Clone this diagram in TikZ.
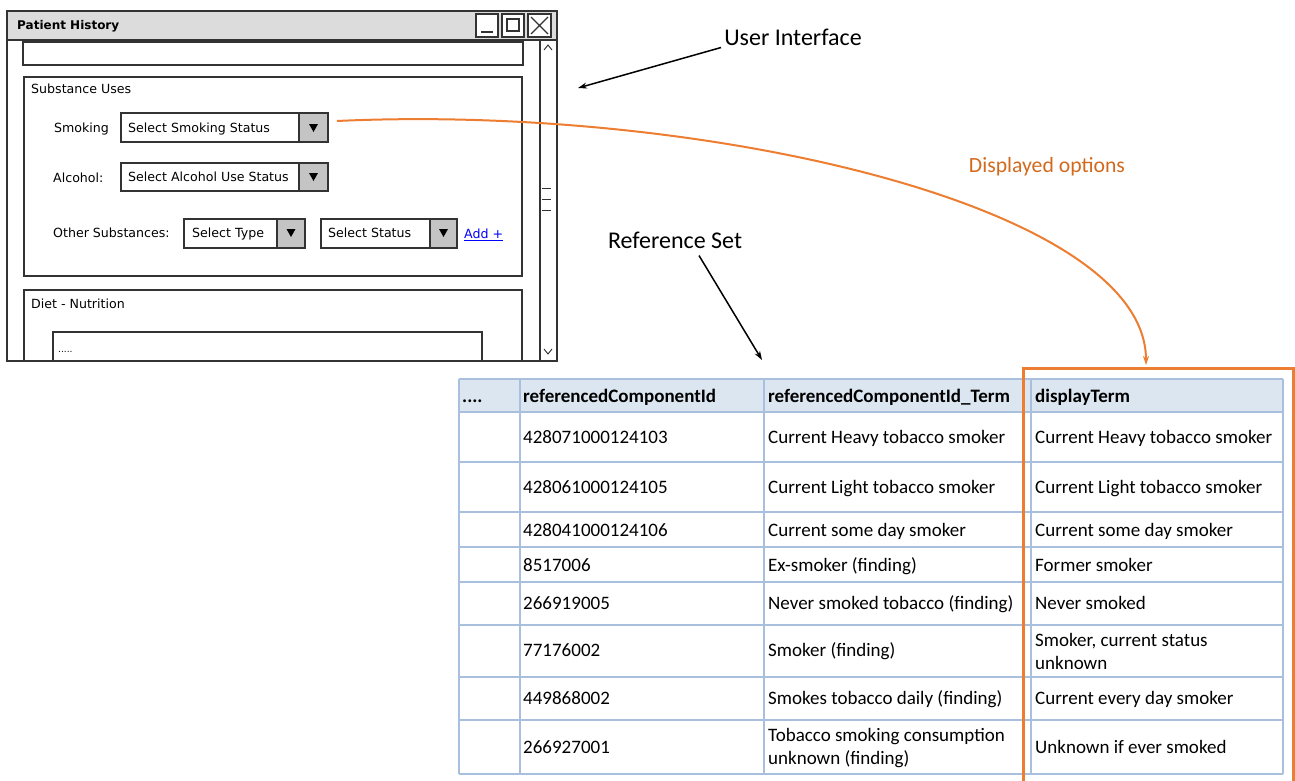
\documentclass[tikz,border=0pt]{standalone}
\usepackage{fontspec}
\setmainfont{Carlito}
\newfontfamily\uifont{DejaVu Sans}
\usetikzlibrary{arrows.meta}
\definecolor{orangeL}{HTML}{ED7D31}
\definecolor{orangeT}{HTML}{D26A1E}
\definecolor{gridc}{HTML}{A8C0DE}
\definecolor{headc}{HTML}{DCE6F1}
\definecolor{uiline}{HTML}{333333}
\definecolor{btngray}{HTML}{C4C4C4}
\definecolor{titlegray}{HTML}{DCDCDC}
\begin{document}
\begin{tikzpicture}[x=1bp,y=-1bp,
  ui/.style={font=\uifont\fontsize{12.6bp}{15bp}\selectfont, inner sep=0pt, anchor=west, text height=9.2bp, text depth=0bp},
  uibox/.style={draw=uiline, line width=1.2bp, fill=white},
  uiline/.style={draw=uiline, line width=1.2bp},
  btn/.style={fill=btngray},
  tri/.style={fill=black},
  cell/.style={font=\fontsize{19bp}{23bp}\selectfont, inner sep=0pt, anchor=west, text height=12.2bp, text depth=0bp},
  cellb/.style={font=\fontsize{19bp}{23bp}\selectfont, inner sep=0pt, anchor=west, align=left},
  hcell/.style={cell, font=\bfseries\fontsize{19bp}{23bp}\selectfont},
  callout/.style={font=\fontsize{24bp}{28bp}\selectfont, inner sep=0pt},
  blackarrow/.style={draw=black, line width=1.5bp, -{Stealth[length=9bp,width=6bp]}},
  orangearrow/.style={draw=orangeL, line width=2bp, -{Stealth[length=9bp,width=6bp]}},
  gridline/.style={draw=gridc, line width=1.2bp},
]
\useasboundingbox (0,0) rectangle (1295,781);

% ---------- window ----------
\fill[white] (7,11) rectangle (557,361);
\fill[titlegray] (7,11) rectangle (557,40);
\draw[uiline, line width=1.5bp] (7,11) rectangle (557,361);
\draw[uiline] (7,40) -- (557,40);
\node[ui, font=\uifont\bfseries\fontsize{12bp}{14bp}\selectfont] (title) at (17,25) {Patient History};
% title buttons
\draw[uibox] (476,14) rectangle (498,37);
\draw[uiline] (481,32) -- (493,32);
\draw[uibox] (502,14) rectangle (524,37);
\draw[uiline] (507,19) rectangle (519,31);
\draw[uibox] (528,14) rectangle (551,37);
\draw[uiline] (531,17) -- (548,34) (548,17) -- (531,34);
% scrollbar
\draw[uiline] (540,40) -- (540,361);
\draw[uiline, line width=0.9bp] (544,50) -- (548,45) -- (552,50);
\draw[uiline, line width=0.9bp] (544,349) -- (548,354) -- (552,349);
\draw[uiline, line width=0.9bp] (542,188) -- (551,188) (542,199) -- (551,199) (542,210) -- (551,210);
% top textbox
\draw[uibox] (23,42) rectangle (523,65);
% substance uses
\draw[uibox] (24,77) rectangle (522,276);
\node[ui] (subst) at (31,89) {Substance Uses};
\node[ui] (smokL) at (54,128) {Smoking};
\node[ui] (alcL) at (53,178) {Alcohol:};
\node[ui] (othL) at (53,233) {Other Substances:};
% smoking dropdown
\draw[uibox] (121,113) rectangle (328,142);
\fill[btn] (299,113) rectangle (328,142);
\draw[uiline] (121,113) rectangle (328,142) (299,113) -- (299,142);
\fill[tri] (309,124) -- (318,124) -- (313.5,132) -- cycle;
\node[ui] (smokDD) at (128,128) {Select Smoking Status};
% alcohol dropdown
\draw[uibox] (121,163) rectangle (328,191);
\fill[btn] (299,163) rectangle (328,191);
\draw[uiline] (121,163) rectangle (328,191) (299,163) -- (299,191);
\fill[tri] (309,173) -- (318,173) -- (313.5,181) -- cycle;
\node[ui] (alcDD) at (128,177) {Select Alcohol Use Status};
% type dropdown
\draw[uibox] (184,219) rectangle (305,248);
\fill[btn] (277,219) rectangle (305,248);
\draw[uiline] (184,219) rectangle (305,248) (277,219) -- (277,248);
\fill[tri] (286.5,229) -- (295.5,229) -- (291,237) -- cycle;
\node[ui] (typeDD) at (192,233) {Select Type};
% status dropdown
\draw[uibox] (321,219) rectangle (457,248);
\fill[btn] (430,219) rectangle (457,248);
\draw[uiline] (321,219) rectangle (457,248) (430,219) -- (430,248);
\fill[tri] (439,229) -- (448,229) -- (443.5,237) -- cycle;
\node[ui] (statDD) at (328,233) {Select Status};
\node[ui, text=blue] (add) at (464,234) {\underline{Add +}};
% diet
\draw[uibox] (24,290) rectangle (522,361);
\node[ui] (diet) at (31,304) {Diet - Nutrition};
\draw[uibox] (53,332) rectangle (482,361);
\node[ui, font=\uifont\fontsize{9bp}{10bp}\selectfont] (dots) at (58,348) {.....};
\draw[uiline, line width=1.5bp] (7,11) rectangle (557,361);

% ---------- callouts ----------
\node[callout] (uilabel) at (793,37) {User Interface};
\coordinate (uiTip) at (578,88);
\draw[blackarrow] ([xshift=-3bp,yshift=-2bp]uilabel.south west) -- (uiTip);

\node[callout] (refset) at (675,240) {Reference Set};
\coordinate (refTip) at (762,360);
\draw[blackarrow] ([xshift=24bp,yshift=-7bp]refset.south) -- (refTip);

\node[callout, font=\fontsize{21.7bp}{26bp}\selectfont, text=orangeT] (dispopt) at (1047,167) {Displayed options};
\coordinate (curveStart) at (337,121);
\coordinate (curveEnd) at (1146,365);
\draw[orangearrow] (curveStart) .. controls (700,104) and (1146,205) .. (curveEnd);

% ---------- table ----------
\fill[headc] (459,379) rectangle (1283,412);
\foreach \yy in {379,412,462,512,547,582,625,677,720,774}
  \draw[gridline] (459,\yy) -- (1283,\yy);
\foreach \xx in {459,520,764,1031,1283}
  \draw[gridline] (\xx,379) -- (\xx,774);

\node[hcell] (h1) at (462,396) {....};
\node[hcell] (h2) at (523,396) {referencedComponentId};
\node[hcell] (h3) at (768,396) {referencedComponentId\_Term};
\node[hcell] (h4) at (1035,396) {displayTerm};

\node[cell] (a1) at (523,437) {428071000124103};
\node[cell] (b1) at (768,437) {Current Heavy tobacco smoker};
\node[cell] (c1) at (1035,437) {Current Heavy tobacco smoker};

\node[cell] (a2) at (523,487) {428061000124105};
\node[cell] (b2) at (768,487) {Current Light tobacco smoker};
\node[cell] (c2) at (1035,487) {Current Light tobacco smoker};

\node[cell] (a3) at (523,530) {428041000124106};
\node[cell] (b3) at (768,530) {Current some day smoker};
\node[cell] (c3) at (1035,530) {Current some day smoker};

\node[cell] (a4) at (523,565) {8517006};
\node[cell] (b4) at (768,565) {Ex-smoker (finding)};
\node[cell] (c4) at (1035,565) {Former smoker};

\node[cell] (a5) at (523,603) {266919005};
\node[cell] (b5) at (768,603) {Never smoked tobacco (finding)};
\node[cell] (c5) at (1035,603) {Never smoked};

\node[cell] (a6) at (523,650) {77176002};
\node[cell] (b6) at (768,650) {Smoker (finding)};
\node[cellb] (c6) at (1035,651) {Smoker, current status\\unknown};

\node[cell] (a7) at (523,698) {449868002};
\node[cell] (b7) at (768,698) {Smokes tobacco daily (finding)};
\node[cell] (c7) at (1035,698) {Current every day smoker};

\node[cell] (a8) at (523,747) {266927001};
\node[cellb] (b8) at (768,748) {Tobacco smoking consumption\\unknown (finding)};
\node[cell] (c8) at (1035,747) {Unknown if ever smoked};

% orange highlight
\draw[orangeL, line width=3bp] (1023,781) -- (1023,368) -- (1293,368) -- (1293,781);
\end{tikzpicture}
\end{document}
